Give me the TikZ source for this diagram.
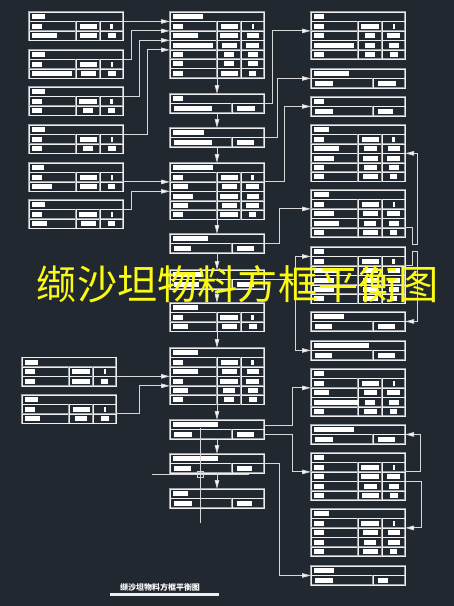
\documentclass[tikz,border=0pt]{standalone}
\usepackage{fontspec}
\newfontfamily\cjk{Noto Sans CJK SC}
\usetikzlibrary{calc,arrows.meta}
\definecolor{bg}{RGB}{33,40,48}
\definecolor{lc}{RGB}{160,163,168}
\definecolor{lw}{RGB}{238,238,238}
\definecolor{cc}{RGB}{215,215,215}
\definecolor{wmy}{RGB}{250,250,20}
\def\rh{9.45}
\tikzset{
  tline/.style={draw=lc, double=lw, double distance=0.45pt, line width=0.55pt},
  tbox/.style={tline, rectangle, inner sep=0pt, outer sep=0pt, minimum width=94pt, anchor=north west},
  conn/.style={draw=cc, line width=0.9pt},
  arr/.style={conn, -{Triangle[length=9pt,width=4.5pt,fill=white]}},
  bar/.style={fill=white},
}
\newcommand\tthree[6]{%
  \node[tbox, minimum height={(#4+1)*\rh*1pt}] (#1) at (#2,#3) {};
  \foreach \k in {1,...,#4} \draw[tline] ({#2},{#3+\k*\rh}) -- ++(94,0);
  \draw[tline] ({#2+47},{#3+\rh}) -- ({#2+47},{#3+(#4+1)*\rh});
  \draw[tline] ({#2+71},{#3+\rh}) -- ({#2+71},{#3+(#4+1)*\rh});
  \fill[bar] ({#2+3},{#3+2.2}) rectangle ++(#5,5);
  \foreach \wa/\wb/\wc [count=\i] in {#6} {
    \fill[bar] ({#2+3},{#3+\i*\rh+2.2}) rectangle ++(\wa,5);
    \fill[bar] ({#2+59-\wb/2},{#3+\i*\rh+2.2}) rectangle ++(\wb,5);
    \fill[bar] ({#2+82.5-\wc/2},{#3+\i*\rh+2.2}) rectangle ++(\wc,5);
  }
}
\newcommand\ttwo[6]{%
  \node[tbox, minimum height={2*\rh*1pt}] (#1) at (#2,#3) {};
  \draw[tline] ({#2},{#3+\rh}) -- ++(94,0);
  \draw[tline] ({#2+62},{#3+\rh}) -- ++(0,\rh);
  \fill[bar] ({#2+3},{#3+2.2}) rectangle ++(#4,5);
  \fill[bar] ({#2+4},{#3+\rh+2.2}) rectangle ++(#5,5);
  \fill[bar] ({#2+67},{#3+\rh+2.2}) rectangle ++(#6,5);
}
\begin{document}
\begin{tikzpicture}[x=1pt,y=-1pt]
\fill[bg] (0,0) rectangle (454,606);
\useasboundingbox (0,0) rectangle (454,606);
% left column
\tthree{L1}{29}{12}{2}{13}{10/17/3, 25/17/8}
\tthree{L2}{29}{50}{2}{13}{10/17/2, 40/15/8}
\tthree{L3}{29}{87}{2}{13}{10/18/3, 10/10/7}
\tthree{L4}{29}{125}{2}{13}{10/17/2, 10/10/8}
\tthree{L5}{29}{163}{2}{12}{10/17/2, 20/17/7}
\tthree{L6}{29}{200}{2}{13}{10/18/2, 15/15/7}
\tthree{L7}{22}{357.45}{2}{13}{10/18/2, 10/18/7}
\tthree{L8}{22}{395}{2}{13}{10/17/2, 15/12/8}
% middle column
\tthree{M1}{170}{12}{6}{30}{10/17/2, 25/18/12, 40/15/13, 10/10/10, 10/10/10, 10/17/7}
\ttwo{M2}{170}{94}{10}{38}{18}
\ttwo{M3}{170}{128}{31}{38}{17}
\tthree{M4}{170}{163}{5}{40}{10/17/3, 15/15/13, 20/18/12, 15/15/13, 10/18/7}
\ttwo{M5}{170}{234}{35}{17}{17}
\ttwo{M6}{170}{270}{30}{25}{17}
\tthree{M7}{170}{303}{2}{25}{10/18/3, 15/15/8}
\tthree{M8}{170}{348}{5}{25}{10/17/3, 25/15/12, 10/18/13, 15/12/10, 10/10/8}
\ttwo{M9}{170}{420}{45}{18}{17}
\ttwo{M10}{170}{454}{45}{17}{15}
\ttwo{M11}{170}{489}{15}{18}{15}
% right column
\tthree{R1}{311}{12}{4}{10}{10/18/2, 10/10/13, 40/10/10, 10/10/8}
\ttwo{R2}{311}{69}{35}{18}{18}
\ttwo{R3}{311}{97}{10}{18}{15}
\tthree{R4}{311}{125}{5}{15}{10/17/3, 25/13/12, 20/15/13, 10/13/10, 10/15/7}
\tthree{R5}{311}{190}{4}{15}{10/17/2, 20/15/13, 25/12/10, 10/15/7}
\tthree{R6}{311}{247}{5}{10}{10/17/3, 25/15/12, 20/15/12, 20/15/10, 10/15/7}
\ttwo{R7}{311}{312}{30}{17}{17}
\ttwo{R8}{311}{341}{55}{17}{17}
\tthree{R9}{311}{369}{4}{10}{10/17/2, 15/13/13, 45/10/10, 10/13/7}
\ttwo{R10}{311}{425}{40}{18}{17}
\tthree{R11}{311}{453}{4}{10}{10/18/2, 10/18/13, 10/13/10, 10/17/8}
\tthree{R12}{311}{509}{4}{15}{10/18/2, 10/15/12, 10/12/12, 10/15/7}
\ttwo{R13}{311}{566}{20}{18}{10}
% left -> middle
\draw[arr] ($(L1.north east)+(0,\rh)$) -- ($(M1.north west)+(0,\rh)$);
\draw[arr] ($(L2.north east)+(0,\rh)$) -- ++(8,0) |- ($(M1.north west)+(0,2*\rh)$);
\draw[arr] ($(L3.north east)+(0,\rh)$) -- ++(16,0) |- ($(M1.north west)+(0,3*\rh)$);
\draw[arr] ($(L4.north east)+(0,\rh)$) -- ++(24,0) |- ($(M1.north west)+(0,4*\rh)$);
\draw[arr] ($(L5.north east)+(0,2*\rh)$) -- ($(M4.north west)+(0,2*\rh)$);
\draw[arr] ($(L6.north east)+(0,\rh)$) -- ++(8,0) |- ($(M4.north west)+(0,3*\rh)$);
\draw[arr] ($(L7.north east)+(0,2*\rh)$) -- ($(M8.north west)+(0,3*\rh)$);
\draw[arr] ($(L8.north east)+(0,2*\rh)$) -- ++(23,0) |- ($(M8.north west)+(0,4*\rh)$);
% middle downward
\foreach \a/\b in {M1/M2, M2/M3, M3/M4, M4/M5, M5/M6, M6/M7, M7/M8, M8/M9, M9/M10, M10/M11}
  \draw[arr] (\a.south) -- (\b.north);
% middle -> right
\draw[arr] ($(M2.north east)+(0,\rh)$) -- ++(8,0) |- ($(R1.north west)+(0,2*\rh)$);
\draw[arr] ($(M3.north east)+(0,\rh)$) -- ++(13,0) |- ($(R2.north west)+(0,\rh)$);
\draw[arr] ($(M4.north east)+(0,2*\rh)$) -- ++(20,0) |- ($(R3.north west)+(0,\rh)$);
\draw[arr] ($(M5.north east)+(0,\rh)$) -- ++(15,0) |- ($(R5.north west)+(0,2*\rh)$);
\draw[conn] ($(M6.north east)+(0,\rh)$) -- ++(31,0) coordinate (j6);
\draw[arr] (j6) |- ($(R6.north west)+(0,\rh)$);
\draw[arr] (j6) |- ($(R8.north west)+(0,\rh)$);
\draw[arr] ($(M9.north east)+(0,5)$) -- ++(28,0) |- ($(R9.north west)+(0,2*\rh)$);
\draw[arr] ($(M9.north east)+(0,14)$) -- ++(28,0) |- ($(R11.north west)+(0,2*\rh)$);
\draw[arr] ($(M10.north east)+(0,\rh)$) -- ++(15,0) |- ($(R13.north west)+(0,\rh)$);
% right side returns
\draw[arr] ($(R5.north east)+(0,4*\rh)$) -- ++(7,0) -- ++(0,16.2) -- ++(5,0) |- ($(R4.north east)+(0,3*\rh)$);
\draw[arr] ($(R6.north east)+(0,2*\rh)$) -- ++(7,0) -- ++(0,-14.9) -- ++(5,0) |- ($(R7.north east)+(0,\rh)$);
\draw[arr] ($(R11.north east)+(0,2*\rh)$) -- ++(15,0) |- ($(R10.north east)+(0,\rh)$);
\draw[arr] ($(R11.north east)+(0,3*\rh)$) -- ++(16,0) |- ($(R12.north east)+(0,2*\rh)$);
% cursor crosshair
\draw[conn, line width=0.8pt] (200,428) -- (200,523);
\draw[conn, line width=0.8pt] (152,474) -- (249,474);
\draw[conn, line width=0.8pt] (197,471) rectangle (203,477);
% watermark
\node[text=wmy, font=\cjk\fontsize{40.2}{40}\selectfont, inner sep=0pt] (wm) at (238,284) {缬沙坦物料方框平衡图};
% title
\node[text=white, font=\cjk\bfseries\fontsize{8}{8}\selectfont, inner sep=0pt] (title) at (160,587) {缬沙坦物料方框平衡图};
\draw[draw=lw, line width=3.5pt] (110,594.5) -- (219,594.5);
\end{tikzpicture}
\end{document}
